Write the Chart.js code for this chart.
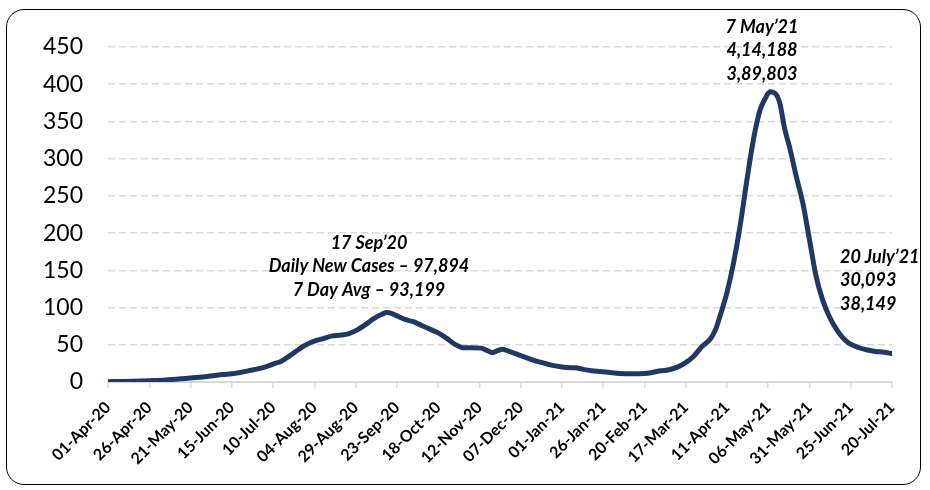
<!DOCTYPE html>
<html>
<head>
<meta charset="utf-8">
<script src="https://cdn.jsdelivr.net/npm/chart.js@4.4.1/dist/chart.umd.min.js"></script>
<style>
  html, body { margin: 0; padding: 0; background: #fff; }
  #wrap { position: relative; width: 930px; height: 490px; }
  #frame {
    position: absolute; left: 6px; top: 9px; width: 913px; height: 474px;
    border: 1.8px solid #000; border-radius: 18px; pointer-events: none;
  }
  canvas { position: absolute; left: 0; top: 0; }
</style>
</head>
<body>
<div id="wrap">
  <canvas id="casesChart" width="930" height="490"></canvas>
  <div id="frame"></div>
</div>
<script>
// x axis labels, one every 25 days starting 01-Apr-20
const tickLabels = [
  '01-Apr-20', '26-Apr-20', '21-May-20', '15-Jun-20', '10-Jul-20',
  '04-Aug-20', '29-Aug-20', '23-Sep-20', '18-Oct-20', '12-Nov-20',
  '07-Dec-20', '01-Jan-21', '26-Jan-21', '20-Feb-21', '17-Mar-21',
  '11-Apr-21', '06-May-21', '31-May-21', '25-Jun-21', '20-Jul-21'
];
const tickStep = 25;

// days since 01-Apr-20
const dayIndex = [
  0, 10, 20, 25, 35, 45, 50, 60, 70, 75, 85, 95, 100, 105, 110, 115, 120, 125,
  130, 136, 141, 146, 151, 156, 161, 166, 169, 172, 176, 180, 185, 190, 195,
  200, 205, 210, 215, 220, 226, 230, 233, 236, 239, 243, 248, 253, 258, 263,
  268, 273, 278, 283, 288, 293, 298, 303, 310, 318, 325, 330, 335, 340, 345,
  350, 355, 360, 365, 368, 371, 375, 379, 383, 387, 391, 395, 398, 401, 404,
  407, 410, 413, 417, 421, 425, 429, 433, 437, 441, 445, 449, 455, 460, 465,
  470, 475
];

// 7 day average of new cases, in thousands
const avgCases = [
  0.5, 0.8, 1.4, 1.8, 2.8, 4.5, 5.5, 7.5, 10, 11, 15, 20, 24, 28, 35, 43, 50, 55,
  58, 62, 63, 65, 70, 77, 85, 91, 93.199, 92, 88, 84, 81, 76, 71,
  66, 59, 51, 46, 46, 45.5, 42, 39.5, 42, 44, 41, 37, 33, 29, 26,
  23, 21, 19.5, 19, 17, 15, 14, 13, 11.5, 11, 11.5, 13, 15, 16.5, 20,
  26, 35, 48, 58, 70, 90, 120, 160, 210, 270, 325, 365, 380, 389.803, 388,
  375, 340, 315, 276, 240, 191, 142, 110, 88, 72, 60, 52, 46, 43, 41,
  40, 38.149
];

const sepNote = ['17 Sep’20', 'Daily New Cases – 97,894', '7 Day Avg – 93,199'];
const mayNote = ['7 May’21', '4,14,188', '3,89,803'];
const julNote = ['20 July’21', '30,093', '38,149'];

const points = dayIndex.map((d, i) => ({ x: d, y: avgCases[i] }));

const notesPlugin = {
  id: 'notes',
  afterDraw(chart) {
    const ctx = chart.ctx;
    ctx.save();
    ctx.fillStyle = '#000';
    ctx.font = 'italic bold 18px Lato';
    ctx.textBaseline = 'middle';
    const block = (lines, x, y, align) => {
      ctx.textAlign = align;
      lines.forEach((t, i) => ctx.fillText(t, x, y + i * 23.5));
    };
    block(sepNote, 369, 243, 'center');
    block(mayNote, 762, 27, 'center');
    block(julNote, 840, 257, 'left');
    ctx.restore();
  }
};

new Chart(document.getElementById('casesChart'), {
  type: 'line',
  data: {
    datasets: [{
      data: points,
      borderColor: '#1f3864',
      borderWidth: 5,
      borderCapStyle: 'round',
      borderJoinStyle: 'round',
      pointRadius: 0,
      cubicInterpolationMode: 'monotone',
      fill: false
    }]
  },
  options: {
    responsive: false,
    animation: false,
    layout: { padding: { left: 0, top: 47, right: 38, bottom: 0 } },
    plugins: { legend: { display: false }, tooltip: { enabled: false } },
    scales: {
      x: {
        type: 'linear',
        min: 0,
        max: (tickLabels.length - 1) * tickStep,
        afterBuildTicks: (scale) => {
          scale.ticks = tickLabels.map((_, i) => ({ value: i * tickStep }));
        },
        afterFit: (scale) => { scale.height = 108; },
        border: { display: true, color: '#d9d9d9', width: 2 },
        grid: { drawOnChartArea: false, drawTicks: true, tickLength: 6, color: '#d9d9d9', lineWidth: 1.5 },
        ticks: {
          autoSkip: false,
          maxRotation: 45,
          minRotation: 45,
          padding: 10,
          color: '#000',
          font: { family: 'Lato', size: 16, weight: 'bold' },
          callback: (v, i) => tickLabels[i]
        }
      },
      y: {
        min: 0,
        max: 450,
        afterFit: (scale) => { scale.width = 108; },
        border: { display: false, dash: [7, 4] },
        grid: { color: '#d9d9d9', lineWidth: 1.5, drawTicks: false },
        ticks: {
          stepSize: 50,
          padding: 25,
          color: '#000',
          font: { family: 'Lato', size: 23 }
        }
      }
    }
  },
  plugins: [notesPlugin]
});
</script>
</body>
</html>
